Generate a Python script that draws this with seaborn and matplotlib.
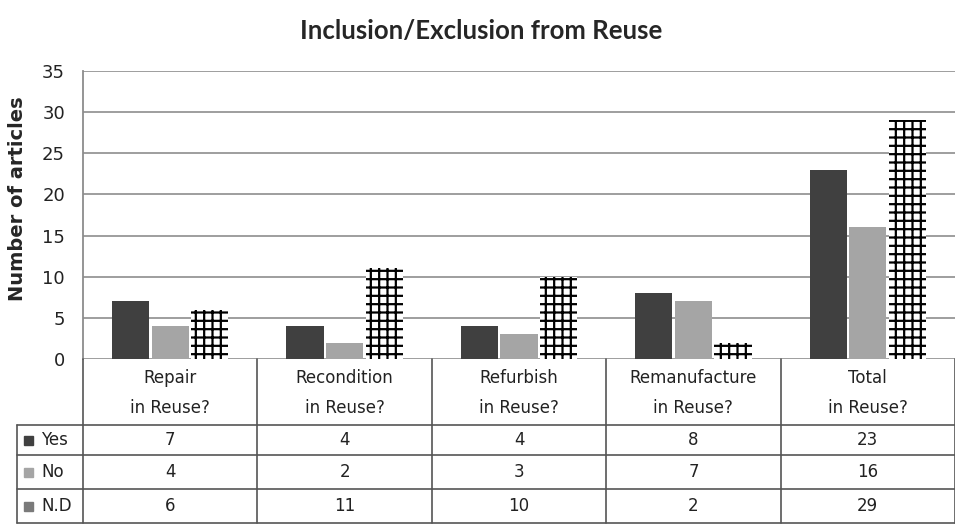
import numpy as np
import pandas as pd
import matplotlib
matplotlib.use("Agg")
import matplotlib.pyplot as plt
import seaborn as sns

# data
categories = ["Repair\nin Reuse?", "Recondition\nin Reuse?", "Refurbish\nin Reuse?",
              "Remanufacture\nin Reuse?", "Total\nin Reuse?"]
series = ["Yes", "No", "N.D"]
yes_vals = [7, 4, 4, 8, 23]
no_vals = [4, 2, 3, 7, 16]
nd_vals = [6, 11, 10, 2, 29]

df = pd.DataFrame({
    "category": categories * 3,
    "series": ["Yes"] * 5 + ["No"] * 5 + ["N.D"] * 5,
    "value": yes_vals + no_vals + nd_vals,
})

sns.set_theme(style="white")
plt.rcParams["font.family"] = ["DejaVu Sans"]
plt.rcParams["hatch.linewidth"] = 1.6

W, H = 955, 526
fig = plt.figure(figsize=(W / 100, H / 100), dpi=100)

# bar axes, placed in pixel terms
x0, x1 = 83, 955
y_top, y_bot = 71, 359
ax = fig.add_axes([x0 / W, 1 - y_bot / H, (x1 - x0) / W, (y_bot - y_top) / H])

palette = {"Yes": "#404040", "No": "#a5a5a5", "N.D": "white"}
sns.barplot(data=df, x="category", y="value", hue="series", hue_order=series,
            order=categories, palette=palette, width=0.68, gap=0.06,
            saturation=1, legend=False, ax=ax, edgecolor="none")

# hatch the N.D bars
for bar in ax.containers[2]:
    bar.set_hatch("++")
    bar.set_edgecolor("black")
    bar.set_linewidth(0)

ax.set_xlim(-0.5, 4.5)
ax.set_ylim(0, 35)
ax.set_yticks(range(0, 36, 5))
ax.yaxis.grid(True, color="#969696", linewidth=1.3)
ax.set_axisbelow(True)
ax.set_xticks([])
ax.set_xlabel("")
ax.set_ylabel("Number of articles", fontsize=14, fontweight="bold")
ax.yaxis.set_label_coords((27 - x0) / (x1 - x0), (y_bot - 199) / (y_bot - y_top))
ax.tick_params(axis="y", labelsize=13, colors="#222222", length=0, pad=13)
for s in ["top", "right", "bottom"]:
    ax.spines[s].set_visible(False)
ax.spines["left"].set_color("#8c8c8c")
ax.spines["left"].set_linewidth(1.3)

fig.suptitle("Inclusion/Exclusion from Reuse", fontsize=18.5, fontweight="bold",
             family="Lato", y=1 - 31 / H, x=481 / W, va="center")

# data table under the bars
tb_top, tb_bot = 359, 523
tax = fig.add_axes([x0 / W, 1 - tb_bot / H, (x1 - x0) / W, (tb_bot - tb_top) / H])
tax.set_xlim(-0.5, 4.5)
tax.set_ylim(0, tb_bot - tb_top)
tax.axis("off")

px = 5 / (x1 - x0)  # category units per pixel
left_edge = -0.5 - (x0 - 17) * px
row_lines = [0, 34, 68, 98]
lc = "#555555"
for y in row_lines:
    tax.plot([left_edge, 4.5], [y, y], color=lc, lw=1.2, clip_on=False)
for k in range(6):
    tax.plot([-0.5 + k, -0.5 + k], [0, tb_bot - tb_top], color=lc, lw=1.2, clip_on=False)
tax.plot([left_edge, left_edge], [0, 98], color=lc, lw=1.2, clip_on=False)

for i, cat in enumerate(categories):
    tax.text(i, 130, cat, ha="center", va="center", fontsize=12,
             color="#222222", linespacing=1.8)

rows = [yes_vals, no_vals, nd_vals]
key_colors = ["#404040", "#a5a5a5", "#7a7a7a"]
row_mid = [83, 51, 17]
for r, (name, vals) in enumerate(zip(series, rows)):
    ym = row_mid[r]
    tax.add_patch(plt.Rectangle((left_edge + 7 * px, ym - 4.5), 9 * px, 9,
                                color=key_colors[r], clip_on=False))
    tax.text(left_edge + 24 * px, ym, name, ha="left", va="center", fontsize=12,
             color="#222222")
    for i, v in enumerate(vals):
        tax.text(i, ym, str(v), ha="center", va="center", fontsize=12, color="#222222")

fig.savefig("out.png", dpi=100)
